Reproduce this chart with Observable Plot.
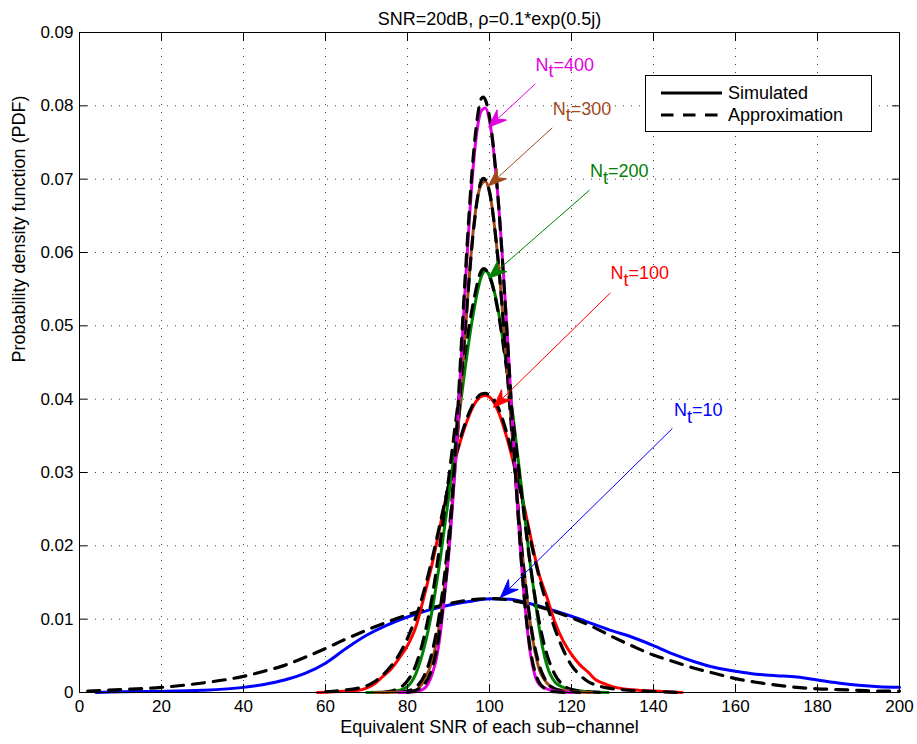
<!DOCTYPE html>
<html>
<head>
<meta charset="utf-8">
<script src="https://cdn.jsdelivr.net/npm/d3@7"></script>
<script src="https://cdn.jsdelivr.net/npm/@observablehq/plot@0.6"></script>
<style>
  body { margin: 0; background: #fff; }
  #chart { position: relative; width: 917px; height: 744px; font-family: "Liberation Sans", Arial, Helvetica, sans-serif; }
  #legend { position: absolute; left: 645px; top: 75px; width: 227px; height: 57px; border: 1px solid #000; background: #fff; box-sizing: border-box; }
</style>
</head>
<body>
<div id="chart"></div>
<script>
// Title, axis labels, ticks
const titleText = "SNR=20dB, \u03c1=0.1*exp(0.5j)";
const xLabel = "Equivalent SNR of each sub\u2212channel";
const yLabel = "Probability density function (PDF)";
const xTicks = [0, 20, 40, 60, 80, 100, 120, 140, 160, 180, 200];
const xTickLabels = ["0", "20", "40", "60", "80", "100", "120", "140", "160", "180", "200"];
const yTicks = [0, 0.01, 0.02, 0.03, 0.04, 0.05, 0.06, 0.07, 0.08, 0.09];
const yTickLabels = ["0", "0.01", "0.02", "0.03", "0.04", "0.05", "0.06", "0.07", "0.08", "0.09"];
const legendLabels = ["Simulated", "Approximation"];

// PDF curves: [SNR, density]
const sim10 = [[4,0],[10,0.0001],[20,0.00015],[30,0.0003],[40,0.0007],[45,0.0011],[50,0.0017],[55,0.0026],[60,0.0040],[65,0.0060],[70,0.0078],[75,0.0092],[80,0.0103],[85,0.0112],[90,0.0119],[95,0.0124],[100,0.0128],[105,0.0127],[110,0.0121],[115,0.0113],[120,0.0104],[125,0.0094],[130,0.0084],[135,0.0075],[140,0.0064],[145,0.0052],[150,0.0042],[155,0.0034],[160,0.0029],[165,0.0025],[170,0.0023],[175,0.0021],[180,0.0017],[185,0.0013],[190,0.0010],[195,0.0008],[200,0.0007]];
const approx10 = [[2,0.0002],[10,0.0004],[20,0.0007],[30,0.0013],[40,0.0022],[45,0.0029],[50,0.0037],[55,0.0048],[60,0.0060],[65,0.0073],[70,0.0085],[75,0.0096],[80,0.0106],[85,0.0114],[90,0.0121],[95,0.0126],[100,0.0128],[105,0.0126],[110,0.0120],[115,0.0112],[120,0.0102],[125,0.0090],[130,0.0076],[135,0.0063],[140,0.0051],[145,0.0042],[150,0.0033],[155,0.0026],[160,0.0019],[165,0.0014],[170,0.0010],[175,0.0007],[180,0.0005],[185,0.0004],[190,0.0003],[195,0.0002],[200,0.0002]];

const sim100 = [[58,0],[62,0.0001],[66,0.0002],[68,0.0003],[70,0.0006],[72,0.0012],[74,0.0022],[76,0.0032],[78,0.0047],[80,0.0064],[82,0.0089],[84,0.0130],[86,0.0175],[88,0.0228],[90,0.0282],[92,0.0325],[94,0.0362],[96,0.0390],[98,0.0404],[99,0.0405],[100,0.0403],[102,0.0385],[104,0.0352],[106,0.0310],[108,0.0265],[110,0.0213],[112,0.0163],[114,0.0130],[116,0.0095],[118,0.0070],[120,0.0052],[122,0.0038],[124,0.0028],[126,0.0017],[128,0.0012],[130,0.0008],[134,0.0004],[140,0.0002],[147,0]];
const approx100 = [[60,0.0001],[64,0.0003],[68,0.0006],[70,0.0009],[72,0.0015],[74,0.0024],[76,0.0036],[78,0.0052],[80,0.0074],[82,0.0102],[84,0.0138],[86,0.0182],[88,0.0232],[90,0.0282],[92,0.0328],[94,0.0366],[96,0.0393],[98,0.0407],[99,0.0408],[100,0.0405],[102,0.0390],[104,0.0358],[106,0.0314],[108,0.0262],[110,0.0208],[112,0.0160],[114,0.0120],[116,0.0086],[118,0.0058],[120,0.0037],[122,0.0024],[124,0.0015],[126,0.0010],[128,0.0007],[132,0.0004],[138,0.0002],[146,0]];

const sim200 = [[70,0],[76,0.0001],[78,0.0003],[80,0.0008],[82,0.0025],[84,0.0060],[86,0.0112],[88,0.0183],[90,0.0265],[92,0.0352],[94,0.0440],[96,0.0515],[98,0.0567],[99,0.0575],[100,0.0568],[102,0.0525],[104,0.0452],[106,0.0365],[108,0.0270],[110,0.0172],[111,0.0132],[112,0.0092],[113,0.0060],[114,0.0037],[116,0.0014],[118,0.0007],[120,0.0004],[124,0.0001],[129,0]];
const approx200 = [[74,0],[76,0.0002],[78,0.0006],[80,0.0016],[82,0.0037],[84,0.0075],[86,0.0130],[88,0.0205],[90,0.0290],[92,0.0380],[94,0.0462],[96,0.0530],[98,0.0575],[98.5,0.0578],[100,0.0568],[102,0.0522],[104,0.0448],[106,0.0358],[108,0.0262],[110,0.0172],[112,0.0100],[114,0.0052],[116,0.0024],[118,0.0010],[120,0.0004],[124,0.0001],[128,0]];

const sim300 = [[72,0],[80,0.0001],[82,0.0003],[84,0.0016],[86,0.0043],[88,0.0100],[90,0.0197],[92,0.0333],[94,0.0485],[96,0.0628],[97,0.0672],[98,0.0693],[99,0.0697],[100,0.0682],[102,0.0595],[104,0.0462],[106,0.0318],[108,0.0190],[110,0.0092],[112,0.0034],[114,0.0013],[116,0.0005],[118,0.0003],[121,0.0001],[125,0]];
const approx300 = [[78,0],[80,0.0002],[82,0.0007],[84,0.0022],[86,0.0055],[88,0.0115],[90,0.0210],[92,0.0343],[94,0.0490],[96,0.0625],[97,0.0672],[98,0.0698],[98.5,0.0701],[99,0.0699],[100,0.0683],[102,0.0595],[104,0.0460],[106,0.0315],[108,0.0188],[110,0.0095],[112,0.0040],[114,0.0014],[116,0.0005],[118,0.0002],[122,0]];

const sim400 = [[78,0],[82,0.0001],[84,0.0005],[86,0.0025],[87,0.0045],[88,0.0080],[89,0.0130],[90,0.0185],[92,0.0345],[94,0.0545],[96,0.0715],[97,0.0768],[98,0.0793],[99,0.0797],[100,0.0780],[102,0.0680],[104,0.0520],[106,0.0330],[107,0.0240],[108,0.0160],[109,0.0098],[110,0.0052],[111,0.0025],[112,0.0012],[114,0.0005],[116,0.0002],[120,0]];
const approx400 = [[80,0],[82,0.0003],[84,0.0010],[86,0.0033],[87,0.0055],[88,0.0090],[89,0.0135],[90,0.0192],[92,0.0360],[94,0.0560],[96,0.0728],[97,0.0782],[98,0.0810],[98.5,0.0812],[99,0.0808],[100,0.0785],[102,0.0680],[104,0.0515],[106,0.0330],[107,0.0240],[108,0.0162],[109,0.0100],[110,0.0057],[111,0.0030],[112,0.0015],[114,0.0004],[116,0.0001],[119,0]];

// Annotations: label text, label anchor, arrow tail, arrow tip
const ntLabels = ["N_t=10", "N_t=100", "N_t=200", "N_t=300", "N_t=400"];
const ntLabelAt = [[145.0, 0.0385], [129.5, 0.0572], [124.5, 0.0711], [115.4, 0.0796], [111.2, 0.0856]];
const arrowFrom = [[144.6, 0.0360], [129.5, 0.0545], [124.4, 0.0685], [115.3, 0.0770], [111.2, 0.0830]];
const arrowTo = [[102.7, 0.0130], [101.0, 0.0389], [99.8, 0.0565], [99.8, 0.0691], [99.8, 0.0771]];

const colors = ["#0000ff", "#ff0000", "#008000", "#a14a1c", "#e000e0"];
const simCurves = [sim10, sim100, sim200, sim300, sim400];
const approxCurves = [approx10, approx100, approx200, approx300, approx400];

const arrows = ntLabels.map((label, i) => ({
  label, color: colors[i],
  tx: ntLabelAt[i][0], ty: ntLabelAt[i][1],
  x1: arrowFrom[i][0], y1: arrowFrom[i][1],
  x2: arrowTo[i][0], y2: arrowTo[i][1]
}));

// filled dart-shaped arrowhead
function dart(color) {
  const m = d3.create("svg:marker")
    .attr("viewBox", "-20 -10 22 20")
    .attr("markerWidth", 22).attr("markerHeight", 20)
    .attr("markerUnits", "userSpaceOnUse")
    .attr("orient", "auto")
    .attr("refX", 0).attr("refY", 0);
  m.append("path")
    .attr("d", "M0,0L-18,-7L-12,0L-18,7Z")
    .attr("fill", color).attr("stroke", color).attr("stroke-width", 1);
  return m.node();
}

const pt = {x: d => d[0], y: d => d[1]};
const curveMarks = [];
simCurves.forEach((c, i) => {
  curveMarks.push(Plot.line(c, {...pt, stroke: colors[i], strokeWidth: 3, curve: "monotone-x"}));
  curveMarks.push(Plot.line(approxCurves[i], {...pt, stroke: "#000", strokeWidth: 3.2, strokeDasharray: "12,9", curve: "monotone-x"}));
});

const font = 17;
const labelFont = 18;
const svg = Plot.plot({
  width: 917,
  height: 744,
  marginLeft: 79,
  marginRight: 18,
  marginTop: 32,
  marginBottom: 52,
  x: {domain: [0, 200]},
  y: {domain: [0, 0.09]},
  color: {type: "identity"},
  style: {fontFamily: "'Liberation Sans', Arial, Helvetica, sans-serif", fontSize: font + "px", color: "#000", background: "#fff"},
  marks: [
    Plot.ruleX(xTicks, {x: d => d, stroke: "#444", strokeDasharray: "1,7"}),
    Plot.ruleY(yTicks, {y: d => d, stroke: "#444", strokeDasharray: "1,7"}),
    ...curveMarks,
    Plot.link(arrows, {x1: "x1", y1: "y1", x2: "x2", y2: "y2", stroke: "color", strokeWidth: 1, markerEnd: dart}),
    Plot.text(arrows, {x: "tx", y: "ty", text: "label", fill: "color", textAnchor: "start", fontSize: labelFont}),
    Plot.frame({stroke: "#000", strokeWidth: 1}),
    // tick labels
    Plot.axisX({ticks: xTicks, anchor: "bottom", tickSize: 0, tickPadding: 7, tickFormat: d => xTickLabels[xTicks.indexOf(d)], label: null, fontSize: font}),
    Plot.axisY({ticks: yTicks, anchor: "left", tickSize: 0, tickPadding: 6, tickFormat: d => yTickLabels[yTicks.indexOf(d)], label: null, fontSize: font}),
    // inward tick marks on all four sides
    Plot.axisX({ticks: xTicks, anchor: "bottom", tickSize: 8, dy: -8, tickFormat: () => "", label: null}),
    Plot.axisX({ticks: xTicks, anchor: "top", tickSize: 8, dy: 8, tickFormat: () => "", label: null}),
    Plot.axisY({ticks: yTicks, anchor: "left", tickSize: 8, dx: 8, tickFormat: () => "", label: null}),
    Plot.axisY({ticks: yTicks, anchor: "right", tickSize: 8, dx: -8, tickFormat: () => "", label: null}),
    // title and axis labels
    Plot.text([titleText], {frameAnchor: "top", dy: -20.5, text: d => d, fontSize: labelFont}),
    Plot.text([xLabel], {frameAnchor: "bottom", dy: 40.5, text: d => d, fontSize: labelFont}),
    Plot.text([yLabel], {frameAnchor: "left", dx: -60.5, rotate: -90, text: d => d, fontSize: labelFont})
  ]
});

// N_t: render the t as a subscript
d3.select(svg).selectAll("text").each(function () {
  const m = /^N_t(=.*)$/.exec(this.textContent);
  if (!m) return;
  const t = d3.select(this);
  t.text(null);
  t.append("tspan").text("N");
  t.append("tspan").attr("dy", "0.38em").text("t");
  t.append("tspan").attr("dy", "-0.38em").text(m[1]);
});

const chart = document.getElementById("chart");
chart.appendChild(svg);

// legend box
const legend = d3.select(chart).append("div").attr("id", "legend");
const lsvg = legend.append("svg").attr("width", 225).attr("height", 55)
  .style("font-family", "'Liberation Sans', Arial, Helvetica, sans-serif").style("font-size", labelFont + "px");
legendLabels.forEach((label, i) => {
  const y = i === 0 ? 17 : 39;
  lsvg.append("line").attr("x1", 15).attr("x2", 76).attr("y1", y).attr("y2", y)
    .attr("stroke", "#000").attr("stroke-width", 3.2)
    .attr("stroke-dasharray", i === 0 ? null : "12.5,9.5");
  lsvg.append("text").attr("x", 82).attr("y", y).attr("dy", "0.35em").text(label);
});
</script>
</body>
</html>
